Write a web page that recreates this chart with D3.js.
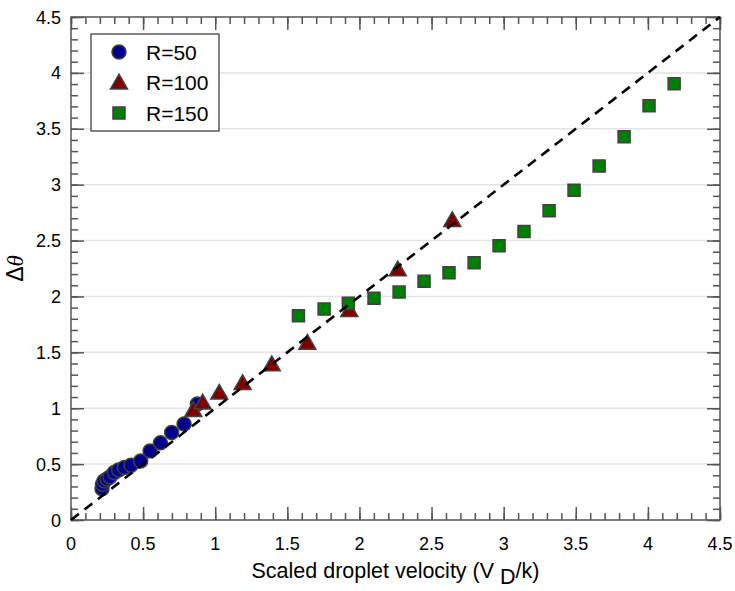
<!DOCTYPE html>
<html>
<head>
<meta charset="utf-8">
<script src="https://cdn.jsdelivr.net/npm/d3@7"></script>
<style>
  body { margin: 0; background: #fff; }
  text { font-family: "Liberation Sans", Arial, sans-serif; fill: #000; }
</style>
</head>
<body>
<div id="chart"></div>
<script>
// R=50 (circles)
const r50X = [0.215, 0.218, 0.229, 0.25, 0.27, 0.30, 0.33, 0.37, 0.416, 0.483, 0.548, 0.62, 0.698, 0.784, 0.876];
const r50Y = [0.28, 0.32, 0.35, 0.367, 0.385, 0.425, 0.447, 0.47, 0.49, 0.528, 0.617, 0.69, 0.783, 0.859, 1.038];
// R=100 (triangles)
const r100X = [0.848, 0.913, 1.028, 1.19, 1.392, 1.639, 1.93, 2.266, 2.644];
const r100Y = [0.984, 1.05, 1.139, 1.225, 1.393, 1.586, 1.878, 2.242, 2.683];
// R=150 (squares)
const r150X = [1.577, 1.755, 1.923, 2.101, 2.275, 2.448, 2.621, 2.795, 2.968, 3.141, 3.315, 3.488, 3.662, 3.835, 4.008, 4.182];
const r150Y = [1.827, 1.887, 1.938, 1.983, 2.039, 2.135, 2.212, 2.301, 2.454, 2.58, 2.767, 2.949, 3.166, 3.428, 3.706, 3.903];

const seriesNames = ["R=50", "R=100", "R=150"];
const xTicks = [0, 0.5, 1, 1.5, 2, 2.5, 3, 3.5, 4, 4.5];
const yTicks = [0, 0.5, 1, 1.5, 2, 2.5, 3, 3.5, 4, 4.5];
const minorTicks = d3.range(0, 4.51, 0.1);

const width = 735;
const height = 591;
const margin = { top: 17, right: 15, bottom: 71, left: 71 };
const axisColor = "#555";

const svg = d3.select("#chart").append("svg")
  .attr("width", width)
  .attr("height", height);

const x = d3.scaleLinear().domain([0, 4.5]).range([margin.left, width - margin.right]);
const y = d3.scaleLinear().domain([0, 4.5]).range([height - margin.bottom, margin.top]);

// horizontal grid
svg.append("g")
  .selectAll("line")
  .data(yTicks.slice(1, -1))
  .join("line")
  .attr("x1", x(0)).attr("x2", x(4.5))
  .attr("y1", d => y(d)).attr("y2", d => y(d))
  .attr("stroke", "#e3e3e3")
  .attr("stroke-width", 1.5);

// axes: ticks on all four sides pointing inward
function frameAxis(axisFn, scale, transform, ticks, size) {
  return svg.append("g")
    .attr("transform", transform)
    .call(axisFn(scale).tickValues(ticks).tickSize(size).tickFormat(""))
    .call(g => g.select(".domain").remove())
    .call(g => g.selectAll(".tick line").attr("stroke", axisColor).attr("stroke-width", 1.5));
}
const bx = `translate(0,${y(0)})`, tx = `translate(0,${y(4.5)})`;
const lx = `translate(${x(0)},0)`, rx = `translate(${x(4.5)},0)`;
frameAxis(d3.axisBottom, x, bx, minorTicks, -7);
frameAxis(d3.axisBottom, x, bx, xTicks, -13);
frameAxis(d3.axisTop, x, tx, minorTicks, -7);
frameAxis(d3.axisTop, x, tx, xTicks, -13);
frameAxis(d3.axisLeft, y, lx, minorTicks, -7);
frameAxis(d3.axisLeft, y, lx, yTicks, -13);
frameAxis(d3.axisRight, y, rx, minorTicks, -7);
frameAxis(d3.axisRight, y, rx, yTicks, -13);

svg.append("rect")
  .attr("x", x(0)).attr("y", y(4.5))
  .attr("width", x(4.5) - x(0)).attr("height", y(0) - y(4.5))
  .attr("fill", "none")
  .attr("stroke", axisColor)
  .attr("stroke-width", 1.5);

// tick labels
svg.append("g")
  .selectAll("text")
  .data(xTicks)
  .join("text")
  .attr("x", d => x(d))
  .attr("y", y(0) + 30)
  .attr("text-anchor", "middle")
  .attr("font-size", 18)
  .text(d => d);

svg.append("g")
  .selectAll("text")
  .data(yTicks)
  .join("text")
  .attr("x", x(0) - 10)
  .attr("y", d => y(d) + 6.5)
  .attr("text-anchor", "end")
  .attr("font-size", 18)
  .text(d => d);

// axis labels
const xl = svg.append("text")
  .attr("x", (x(0) + x(4.5)) / 2)
  .attr("y", 578)
  .attr("text-anchor", "middle")
  .attr("font-size", 21.5);
xl.append("tspan").text("Scaled droplet velocity (V ");
xl.append("tspan").attr("dy", 6).text("D");
xl.append("tspan").attr("dy", -6).text("/k)");

const yl = svg.append("text")
  .attr("transform", `translate(23,${(y(0) + y(4.5)) / 2}) rotate(-90)`)
  .attr("text-anchor", "middle")
  .attr("font-size", 23);
yl.append("tspan").text("Δ");
yl.append("tspan").attr("font-style", "italic").attr("font-family", "'Liberation Serif', serif").text("θ");

// data markers
const markerStroke = "#404040";
const sym = {
  circle: d3.symbol().type(d3.symbolCircle).size(Math.PI * 7 * 7),
  triangle: d3.symbol().type(d3.symbolTriangle).size(125),
  square: d3.symbol().type(d3.symbolSquare).size(12 * 12)
};

function drawSeries(xs, ys, path, fill, dy) {
  svg.append("g")
    .selectAll("path")
    .data(xs.map((d, i) => [d, ys[i]]))
    .join("path")
    .attr("d", path)
    .attr("transform", d => `translate(${x(d[0])},${y(d[1]) + dy})`)
    .attr("fill", fill)
    .attr("stroke", markerStroke)
    .attr("stroke-width", 1.5);
}
drawSeries(r50X, r50Y, sym.circle(), "#00008b", 0);
drawSeries(r100X, r100Y, sym.triangle(), "#800000", 1.5);
drawSeries(r150X, r150Y, sym.square(), "#008000", 0);

// y = x reference line
svg.append("line")
  .attr("x1", x(0)).attr("y1", y(0))
  .attr("x2", x(4.5)).attr("y2", y(4.5))
  .attr("stroke", "#000")
  .attr("stroke-width", 2.6)
  .attr("stroke-dasharray", "10,7");

// legend
const legend = svg.append("g").attr("transform", "translate(91,34)");
legend.append("rect")
  .attr("width", 128).attr("height", 97)
  .attr("fill", "#fff")
  .attr("stroke", "#333")
  .attr("stroke-width", 1.2);
const legendSyms = [
  [sym.circle(), "#00008b", 0],
  [sym.triangle(), "#800000", 1.5],
  [sym.square(), "#008000", 0]
];
seriesNames.forEach((name, i) => {
  const cy = 18 + i * 30.5;
  legend.append("path")
    .attr("d", legendSyms[i][0])
    .attr("transform", `translate(28,${cy + legendSyms[i][2]})`)
    .attr("fill", legendSyms[i][1])
    .attr("stroke", markerStroke)
    .attr("stroke-width", 1.5);
  legend.append("text")
    .attr("x", 55)
    .attr("y", cy + 7.5)
    .attr("font-size", 21)
    .text(name);
});
</script>
</body>
</html>
